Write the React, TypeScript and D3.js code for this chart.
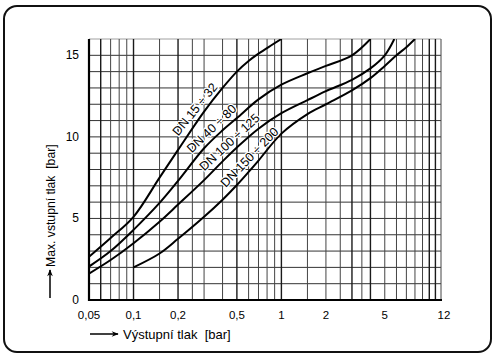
import React from "react";
import * as d3 from "d3";

const W = 496;
const H = 359;

const xTicks = [0.05, 0.1, 0.2, 0.5, 1, 2, 5, 12];
const xTickLabels = ["0,05", "0,1", "0,2", "0,5", "1", "2", "5", "12"];
const yTicks = [0, 5, 10, 15];
const xGrid = [0.06, 0.07, 0.08, 0.09, 0.1, 0.15, 0.2, 0.25, 0.3, 0.4, 0.5, 0.6, 0.7, 0.8, 0.9, 1, 1.5, 2, 2.5, 3, 3.5, 4, 5, 6, 7, 8, 9, 10, 11, 12];
const xGridStrong = [0.06, 0.1, 0.2, 0.5, 1, 3, 4, 10, 11];
const yGrid = [1, 2, 3, 4, 5, 6, 7, 8, 9, 10, 11, 12, 13, 14, 15, 16];

const dn15X = [0.05, 0.07, 0.1, 0.15, 0.2, 0.3, 0.4, 0.5, 0.6, 0.7, 0.85, 1.0];
const dn15Y = [2.65, 3.8, 5.1, 7.5, 9.2, 11.55, 13.0, 14.0, 14.65, 15.1, 15.6, 16.0];
const dn40X = [0.05, 0.07, 0.1, 0.15, 0.2, 0.3, 0.4, 0.5, 0.7, 1.0, 1.5, 2.0, 3.0, 4.0];
const dn40Y = [2.05, 3.0, 4.3, 5.95, 7.3, 9.3, 10.4, 11.15, 12.3, 13.2, 13.9, 14.35, 15.0, 16.0];
const dn100X = [0.05, 0.07, 0.1, 0.15, 0.2, 0.3, 0.4, 0.5, 0.7, 1.0, 1.5, 2.0, 3.0, 4.0, 5.0, 5.8];
const dn100Y = [1.62, 2.45, 3.48, 4.8, 5.85, 7.35, 8.5, 9.35, 10.5, 11.45, 12.25, 12.8, 13.5, 14.2, 15.0, 16.0];
const dn150X = [0.1, 0.15, 0.2, 0.3, 0.4, 0.5, 0.6, 0.7, 1.0, 1.5, 2.0, 3.0, 4.0, 5.0, 6.0, 7.0, 8.0];
const dn150Y = [2.0, 2.85, 3.75, 5.1, 6.15, 7.05, 7.85, 8.55, 10.2, 11.4, 12.0, 12.85, 13.6, 14.35, 15.0, 15.5, 16.0];

const seriesNames = ["DN 15 ÷ 32", "DN 40 ÷ 80", "DN 100 ÷ 125", "DN 150 ÷ 200"];
const seriesX = [dn15X, dn40X, dn100X, dn150X];
const seriesY = [dn15Y, dn40Y, dn100Y, dn150Y];
const labelAt = [0.29, 0.371, 0.491, 0.672];
const labelAngle = [-51, -44, -43, -46];

const xTitle = "Výstupní tlak  [bar]";
const yTitle = "Max. vstupní tlak  [bar]";

const FONT = "'Liberation Sans', Arial, Helvetica, sans-serif";

function interp(xs: number[], ys: number[], v: number) {
  const s = d3.scaleLog().domain(xs).range(ys);
  return s(v);
}

export default function App() {
  const x = d3.scaleLog().domain([0.05, 12]).range([89, 441]);
  const y = d3.scaleLinear().domain([0, 16]).range([300, 39]);
  const line = d3
    .line<[number, number]>()
    .x((d) => x(d[0]))
    .y((d) => y(d[1]))
    .curve(d3.curveCatmullRom.alpha(0.5));

  const [x0, x1] = x.range();
  const [y0, y1] = y.range();
  const labelOffset = 8;

  return (
    <svg
      width={W}
      height={H}
      style={{ position: "absolute", left: 0, top: 0, background: "#fff" }}
      fontFamily={FONT}
    >
      <defs>
        <clipPath id="plot">
          <rect x={x0} y={y1} width={x1 - x0} height={y0 - y1} />
        </clipPath>
        <marker id="arr" viewBox="0 0 10 10" refX="9" refY="5" markerWidth="9" markerHeight="7" orient="auto" markerUnits="userSpaceOnUse">
          <path d="M0,1 L10,5 L0,9 L3,5 Z" fill="#000" />
        </marker>
      </defs>
      <rect x={4} y={6} width={487} height={346} rx={13} ry={13} fill="#fff" stroke="#111" strokeWidth={2} />

      {/* grid */}
      <g>
        {yGrid.map((v) => (
          <line key={"h" + v} x1={x0} x2={x1} y1={y(v)} y2={y(v)} stroke={v === 16 ? "#888" : "#333"} strokeWidth={v === 16 ? 0.8 : 1} />
        ))}
        {xGrid.map((v) => (
          <line
            key={"v" + v}
            x1={x(v)}
            x2={x(v)}
            y1={y1}
            y2={y0}
            stroke={xGridStrong.includes(v) ? "#1a1a1a" : "#444"}
            strokeWidth={xGridStrong.includes(v) ? 1.4 : 1}
          />
        ))}
      </g>

      {/* axes */}
      <line x1={x0} x2={x0} y1={y1} y2={y0 + 1} stroke="#000" strokeWidth={2.2} />
      <line x1={x0 - 1} x2={x1 + 1} y1={y0} y2={y0} stroke="#000" strokeWidth={2.2} />

      {/* curves */}
      <g clipPath="url(#plot)">
        {seriesX.map((xs, i) => (
          <path
            key={"c" + i}
            d={line(xs.map((v, j) => [v, seriesY[i][j]] as [number, number])) || ""}
            fill="none"
            stroke="#000"
            strokeWidth={2}
          />
        ))}
      </g>

      {/* curve labels */}
      {seriesNames.map((n, i) => {
        const px = x(labelAt[i]);
        const py = y(interp(seriesX[i], seriesY[i], labelAt[i]));
        const a = (labelAngle[i] * Math.PI) / 180;
        const cx = px + Math.sin(a) * labelOffset;
        const cy = py - Math.cos(a) * labelOffset;
        return (
          <text
            key={"l" + i}
            x={cx}
            y={cy}
            transform={`rotate(${labelAngle[i]},${cx},${cy})`}
            textAnchor="middle"
            dominantBaseline="middle"
            fontSize={12.5}
            fill="#000"
            stroke="#fff"
            strokeWidth={2.5}
            paintOrder="stroke"
            style={{ whiteSpace: "pre" }}
          >
            {n}
          </text>
        );
      })}

      {/* ticks */}
      {xTicks.map((v, i) => (
        <text key={"xt" + i} x={x(v) + (v === 12 ? 3 : 0)} y={319} textAnchor="middle" fontSize={11.5} fill="#000">
          {xTickLabels[i]}
        </text>
      ))}
      {yTicks.map((v) => (
        <text key={"yt" + v} x={79} y={y(v) + 4} textAnchor="end" fontSize={12} fill="#000">
          {v}
        </text>
      ))}

      {/* x title */}
      <line x1={90} x2={118} y1={334} y2={334} stroke="#000" strokeWidth={1.5} markerEnd="url(#arr)" />
      <text x={123} y={338.5} fontSize={13} fill="#000" style={{ whiteSpace: "pre" }}>
        {xTitle}
      </text>

      {/* y title */}
      <line x1={50} x2={50} y1={298} y2={270} stroke="#000" strokeWidth={1.5} markerEnd="url(#arr)" />
      <text x={0} y={0} transform={`translate(54.5,267) rotate(-90)`} fontSize={12.2} fill="#000" style={{ whiteSpace: "pre" }}>
        {yTitle}
      </text>
    </svg>
  );
}
